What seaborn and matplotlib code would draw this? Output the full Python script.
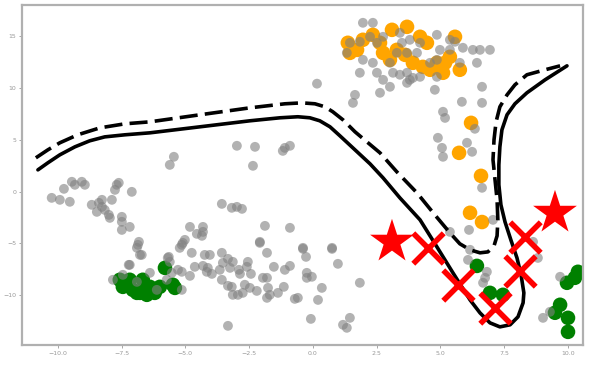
import numpy as np
import pandas as pd
import seaborn as sns
import matplotlib
matplotlib.use("Agg")
import matplotlib.pyplot as plt

# gray background points (x, y)
gray_pts = [
    # top cluster
    (1.96, 16.27), (2.35, 16.27), (1.45, 14.34), (1.84, 14.44), (2.24, 14.92), (2.51, 14.34),
    (2.75, 14.92), (3.41, 15.30), (3.49, 14.34), (3.80, 14.63), (3.29, 13.37), (3.69, 13.37),
    (4.08, 13.37), (4.20, 14.34), (4.86, 15.11), (5.37, 14.63), (5.57, 14.44), (4.98, 13.66),
    (5.37, 13.66), (5.88, 13.86), (6.27, 13.66), (6.55, 13.66), (6.94, 13.66), (6.43, 12.41),
    (5.76, 12.41), (4.86, 12.70), (4.59, 12.41), (3.02, 12.41), (2.35, 12.41), (1.96, 12.70),
    (1.33, 13.37), (1.84, 11.45), (2.51, 11.45), (3.14, 11.45), (3.69, 11.45), (4.20, 11.06),
    (4.86, 11.06), (2.75, 10.77), (3.80, 10.77), (3.41, 11.26), (3.92, 10.96), (3.02, 10.10),
    (3.69, 10.48), (2.63, 9.52), (1.65, 9.32), (1.57, 8.55), (4.78, 9.81), (6.63, 10.10),
    (5.84, 8.65), (6.63, 8.55), (5.10, 7.69), (5.18, 7.10), (4.90, 5.18), (5.06, 4.21),
    (5.10, 3.35), (6.04, 4.70), (6.24, 3.83), (6.35, 6.05), (6.63, 0.36), (0.16, 10.4),
    # left
    (-5.45, 3.35), (-5.61, 2.57), (-9.45, 0.94), (-9.06, 0.94), (-9.33, 0.65), (-8.94, 0.65),
    (-9.76, 0.26), (-10.24, -0.61), (-9.92, -0.80), (-9.53, -0.99), (-8.67, -1.28), (-8.39, -1.09),
    (-8.27, -1.48), (-8.16, -1.77), (-8.47, -1.96), (-8.0, -2.25), (-7.96, -2.54), (-8.27, -0.80),
    (-7.88, -0.80), (-7.69, 0.65), (-7.61, 0.84), (-7.76, 0.16), (-7.10, -0.03), (-7.49, -2.44),
    (-7.49, -2.92), (-7.49, -3.70), (-7.18, -3.41), (-6.82, -4.85), (-6.90, -5.43), (-6.78, -6.11),
    (-5.65, -6.30), (-5.61, -6.78), (-5.22, -5.43), (-7.22, -7.07),
    # middle
    (-2.98, 4.41), (-2.27, 4.31), (-1.10, 4.21), (-0.90, 4.41), (-1.18, 3.92), (-2.35, 2.48),
    (-3.57, -1.19), (-3.18, -1.57), (-2.98, -1.48), (-2.78, -1.67), (-4.82, -3.41), (-4.31, -3.41),
    (-4.31, -3.89), (-4.55, -4.08), (-4.35, -4.27), (-1.88, -3.31), (-0.90, -3.50), (-5.02, -4.66),
    (-5.14, -5.14), (-2.08, -4.85), (-0.39, -5.43), (0.75, -5.43),
    # bottom
    (-4.75, -5.91), (-4.24, -6.11), (-4.04, -6.11), (-3.57, -5.91), (-2.08, -4.95), (-1.80, -5.91),
    (-0.39, -5.53), (-0.27, -6.30), (0.75, -5.53), (0.98, -6.97), (1.84, -8.80), (-5.14, -7.74),
    (-4.63, -7.26), (-4.31, -7.17), (-4.12, -7.36), (-3.96, -7.94), (-4.16, -7.74), (-3.65, -7.55),
    (-3.53, -6.88), (-3.33, -6.49), (-3.14, -6.78), (-3.25, -7.36), (-2.90, -7.55), (-2.86, -7.94),
    (-2.55, -6.78), (-2.59, -7.26), (-2.43, -7.94), (-4.82, -8.13), (-3.57, -8.51), (-3.33, -9.09),
    (-3.18, -9.19), (-3.14, -9.96), (-2.94, -9.96), (-2.75, -9.77), (-2.67, -8.99), (-2.47, -9.29),
    (-2.20, -9.58), (-1.96, -8.32), (-1.80, -8.32), (-1.53, -7.26), (-1.10, -7.55), (-0.90, -7.17),
    (-1.76, -9.29), (-1.69, -9.96), (-1.80, -10.25), (-1.37, -9.77), (-1.14, -9.19), (-0.71, -10.35),
    (-0.59, -10.25), (-0.24, -7.84), (-0.24, -8.32), (-0.04, -8.22), (0.35, -9.29), (0.20, -10.45),
    (-3.33, -12.95), (-0.08, -12.28), (1.18, -12.85), (1.33, -13.14), (1.45, -12.18),
    # inside green cluster
    (-6.86, -5.14), (-6.71, -6.11), (-7.18, -7.07), (-7.84, -8.51), (-7.45, -8.03), (-6.90, -8.71),
    (-6.39, -7.84), (-6.12, -9.48), (-5.73, -8.51), (-5.53, -7.84), (-5.14, -9.48), (-5.10, -4.95),
    (-5.69, -6.40), (-5.29, -7.55),
    # right
    (6.12, -3.70), (5.37, -3.89), (6.16, -5.62), (6.08, -6.59), (6.82, -7.74), (6.75, -8.32),
    (6.67, -8.80), (7.06, -2.73), (8.63, -4.85), (8.82, -6.40), (9.69, -8.22), (9.02, -12.18),
    (9.29, -11.6),
]

orange_pts = [
    (1.37, 14.34), (1.73, 13.66), (2.35, 15.11), (2.63, 14.34), (3.10, 15.59), (3.69, 15.88),
    (3.29, 13.66), (3.02, 12.70), (3.61, 13.18), (4.20, 14.92), (4.47, 14.34), (4.31, 12.02),
    (4.59, 11.74), (5.10, 11.45), (5.37, 12.99), (5.57, 14.92), (5.76, 11.74), (5.18, 12.41),
    (1.45, 13.37), (1.96, 14.63), (3.92, 12.41), (2.75, 13.37), (4.86, 12.41),
    (6.20, 6.62), (5.73, 3.73), (6.59, 1.51), (6.16, -2.05), (6.63, -2.94),
]

green_pts = [
    (-7.57, -8.51), (-7.45, -9.19), (-7.06, -9.48), (-6.78, -9.77), (-6.51, -9.96), (-6.20, -9.77),
    (-6.0, -9.19), (-5.49, -8.99), (-5.41, -9.29), (-5.80, -7.36), (-6.67, -8.51), (-6.39, -9.19),
    (-7.18, -8.51), (-6.90, -9.77),
    (6.43, -7.17), (6.94, -9.77), (7.45, -9.96),
    (10.39, -7.74), (10.27, -8.32), (9.96, -8.80), (9.69, -10.92), (9.49, -11.69), (10.0, -12.18),
    (10.0, -13.53),
]

solid_x = [-10.78, -10.39, -9.92, -9.33, -8.75, -8.16, -7.37, -6.39, -4.43, -2.47, -1.29, -0.59,
           -0.12, 0.27, 0.67, 1.06, 1.65, 2.24, 2.75, 3.41, 4.20, 4.86, 5.49, 6.16, 6.55, 6.94,
           7.33, 7.73, 8.04, 8.24, 8.27, 8.16, 8.00, 7.76, 7.53, 7.37, 7.29, 7.29, 7.33, 7.41,
           7.61, 7.92, 8.39, 9.10, 9.96]
solid_y = [2.09, 2.77, 3.54, 4.31, 4.89, 5.27, 5.47, 5.66, 6.24, 6.82, 7.11, 7.21,
           7.11, 6.82, 6.24, 5.37, 4.02, 2.67, 1.32, -0.61, -2.73, -5.33, -7.84, -10.45, -11.70, -12.66,
           -13.05, -12.85, -12.08, -10.73, -9.77, -8.03, -6.40, -4.66, -2.92, -1.28, 0.65, 2.57, 4.31, 5.95,
           7.40, 8.46, 9.52, 10.77, 12.12]

dashed_x = [-10.86, -10.39, -9.92, -9.22, -8.35, -7.37, -6.39, -4.43, -2.47, -1.10, -0.43, 0.08,
            0.47, 0.78, 1.18, 1.65, 2.16, 2.63, 3.29, 4.08, 4.78, 5.37, 5.76, 6.16, 6.55, 6.86,
            7.10, 7.22, 7.25, 7.22, 7.14, 7.06, 7.10, 7.18, 7.33, 7.61, 7.92, 8.39, 9.10, 9.69]
dashed_y = [3.25, 4.02, 4.70, 5.47, 6.14, 6.53, 6.72, 7.40, 8.07, 8.46, 8.55, 8.46,
            8.17, 7.69, 6.91, 5.76, 4.70, 3.73, 1.90, -0.13, -2.25, -3.98, -5.04, -5.62, -5.91, -5.82,
            -5.24, -4.27, -2.73, -0.80, 1.13, 3.06, 4.99, 6.72, 8.17, 9.32, 10.29, 11.26, 11.74, 12.12]

star_x = [3.10, 9.49]
star_y = [-4.85, -2.06]
cross_x = [4.51, 5.69, 7.14, 8.31, 8.12]
cross_y = [-5.45, -9.0, -11.2, -4.39, -7.69]

gray_df = pd.DataFrame(gray_pts, columns=["x", "y"])
orange_df = pd.DataFrame(orange_pts, columns=["x", "y"])
green_df = pd.DataFrame(green_pts, columns=["x", "y"])
solid_df = pd.DataFrame({"x": solid_x, "y": solid_y})
dashed_df = pd.DataFrame({"x": dashed_x, "y": dashed_y})

sns.set_style("white")
fig = plt.figure(figsize=(6.14, 3.73), dpi=100)
ax = fig.add_axes([0.036, 0.075, 0.914, 0.912])

sns.scatterplot(data=orange_df, x="x", y="y", color="orange", s=110, edgecolor="none", ax=ax, zorder=2)
sns.scatterplot(data=green_df, x="x", y="y", color="green", s=110, edgecolor="none", ax=ax, zorder=2)
sns.scatterplot(data=gray_df, x="x", y="y", color="gray", alpha=0.6, s=50, edgecolor="none", ax=ax, zorder=3)

# estimator=None so repeated x values are not averaged
sns.lineplot(data=solid_df, x="x", y="y", sort=False, estimator=None, color="black",
             linewidth=2.6, ax=ax, zorder=4, solid_joinstyle="round")
sns.lineplot(data=dashed_df, x="x", y="y", sort=False, estimator=None, color="black",
             linewidth=2.6, ax=ax, zorder=4, linestyle=(0, (5, 2)), dash_joinstyle="round")

ax.scatter(star_x, star_y, marker="*", s=1100, color="red", edgecolors="none", zorder=5)
ax.scatter(cross_x, cross_y, marker="x", s=480, color="red", linewidths=4, zorder=5)

ax.set_xlim(-11.4, 10.6)
ax.set_ylim(-14.8, 18.0)
ax.set_xticks([-10, -7.5, -5, -2.5, 0, 2.5, 5, 7.5, 10])
ax.set_xticklabels(["−10.0", "−7.5", "−5.0", "−2.5", "0.0", "2.5", "5.0", "7.5", "10.0"])
ax.set_yticks([-10, -5, 0, 5, 10, 15])
ax.set_yticklabels(["−10", "−5", "0", "5", "10", "15"])
ax.tick_params(axis="both", labelsize=4.5, colors="#999999", length=2, width=0.6, pad=2)
ax.tick_params(bottom=True, left=True)
ax.set_xlabel("")
ax.set_ylabel("")
for sp in ax.spines.values():
    sp.set_color("#b0b0b0")
    sp.set_linewidth(1.6)

fig.savefig("out.png", dpi=100)
